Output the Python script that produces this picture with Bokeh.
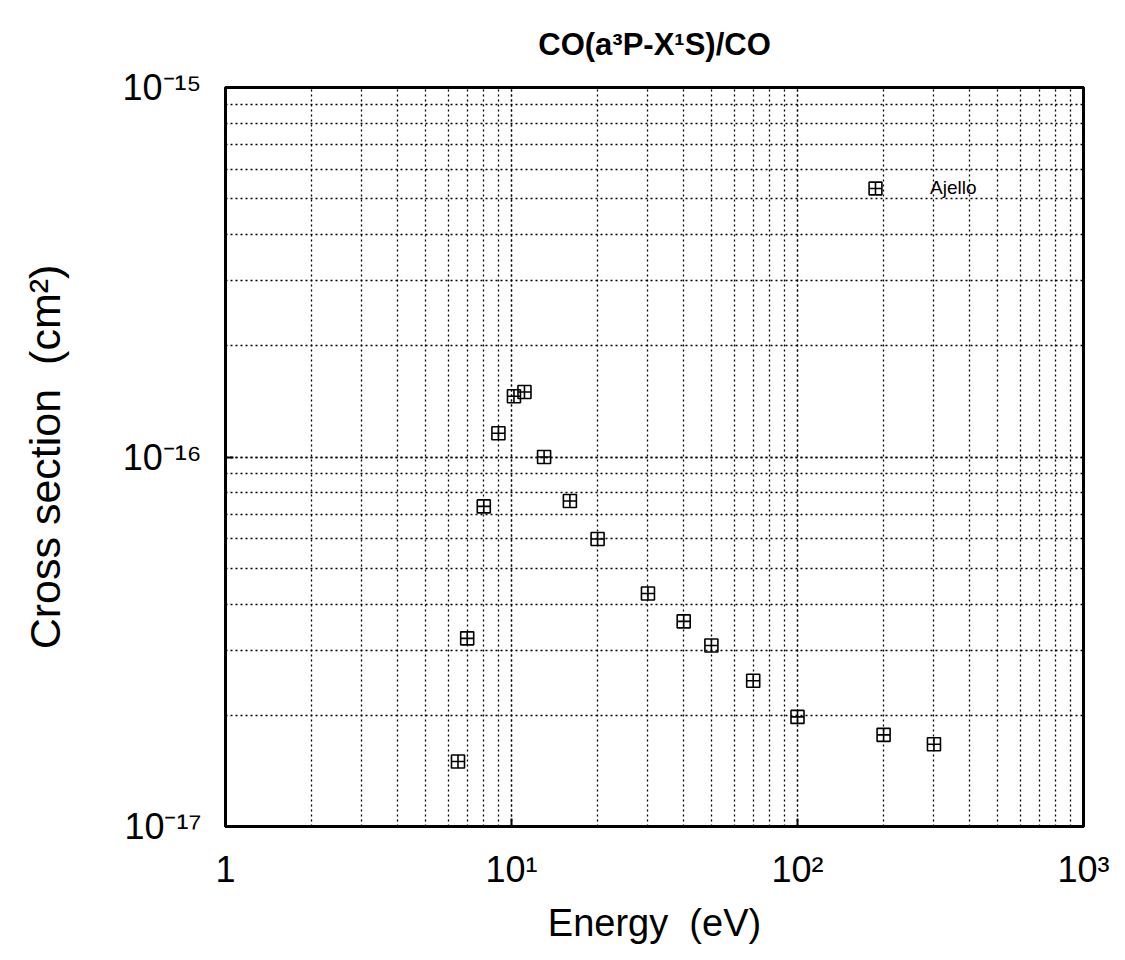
from bokeh.plotting import figure
from bokeh.models import (ColumnDataSource, CustomJSTickFormatter, LogTicker, Legend,
                          LegendItem)
from bokeh.embed import file_html
from bokeh.resources import INLINE

# Data: Ajello, CO(a3P - X1S) excitation cross section
energy = [6.5, 7.0, 8.0, 9.0, 10.2, 11.1, 13.0, 16.0, 20.0, 30.0, 40.0, 50.0, 70.0, 100.0, 200.0, 300.0]
cross_section = [1.50e-17, 3.23e-17, 7.35e-17, 1.16e-16, 1.46e-16, 1.50e-16, 1.00e-16, 7.6e-17,
                 6.0e-17, 4.27e-17, 3.59e-17, 3.09e-17, 2.48e-17, 1.98e-17, 1.77e-17, 1.67e-17]
series_name = "Ajello"
x_range = (1, 1000)
y_range = (1e-17, 1e-15)
title_text = "CO(a\u00b3P-X\u00b9S)/CO"
x_label = "Energy\u00a0\u00a0(eV)"
y_label = "Cross section\u00a0\u00a0(cm\u00b2)"

FONT = "Liberation Sans"

p = figure(width=1125, height=960, x_axis_type="log", y_axis_type="log",
           x_range=x_range, y_range=y_range, output_backend="svg",
           toolbar_location=None, min_border_left=225, min_border_right=42,
           min_border_top=87, min_border_bottom=134)

p.title.text = title_text
p.title.text_font = FONT
p.title.text_font_size = "31px"
p.title.text_font_style = "bold"
p.title.text_color = "black"
p.title.align = "center"
p.title.vertical_align = "top"
p.title.offset = 0
p.title.standoff = 48

src = ColumnDataSource(dict(x=energy, y=cross_section))
r = p.scatter("x", "y", source=src, marker="square_cross", size=13,
              line_color="black", line_width=1.6, fill_color=None)

sup_js = """
const sup = {'-':'\u207b','0':'\u2070','1':'\u00b9','2':'\u00b2','3':'\u00b3','4':'\u2074',
             '5':'\u2075','6':'\u2076','7':'\u2077','8':'\u2078','9':'\u2079'};
const e = Math.round(Math.log10(tick));
if (e == 0) return '1';
return '10' + String(e).split('').map(c => sup[c]).join('');
"""
for ax in (p.xaxis[0], p.yaxis[0]):
    ax.formatter = CustomJSTickFormatter(code=sup_js)
    ax.major_label_text_font = FONT
    ax.major_label_text_font_size = "36px"
    ax.major_label_text_color = "black"
    ax.axis_label_text_font = FONT
    ax.axis_label_text_font_style = "normal"
    ax.axis_label_text_color = "black"
    ax.axis_line_color = "black"
    ax.axis_line_width = 3
    ax.major_tick_in = 8
    ax.major_tick_out = 0
    ax.minor_tick_in = 0
    ax.minor_tick_out = 0
    ax.major_tick_line_color = "black"
    ax.major_tick_line_width = 2

p.xaxis.axis_label_text_font_size = "38px"
p.yaxis.axis_label_text_font_size = "43px"
p.xaxis.ticker = LogTicker(desired_num_ticks=4, num_minor_ticks=10)
p.yaxis.ticker = LogTicker(desired_num_ticks=3, num_minor_ticks=10)
p.xaxis.axis_label = x_label
p.yaxis.axis_label = y_label
p.xaxis.major_label_standoff = 22
p.yaxis.major_label_standoff = 24
p.xaxis.axis_label_standoff = 9
p.yaxis.axis_label_standoff = 51

for g in (p.xgrid[0], p.ygrid[0]):
    g.grid_line_color = "black"
    g.grid_line_dash = "2 3"
    g.grid_line_width = 1.3
    g.minor_grid_line_color = "black"
    g.minor_grid_line_dash = "2 3"
    g.minor_grid_line_width = 1.3

p.outline_line_color = "black"
p.outline_line_width = 3
p.background_fill_color = "white"
p.border_fill_color = "white"

legend = Legend(items=[LegendItem(label=series_name, renderers=[r])],
                location=(634, 622), padding=0, margin=0, spacing=0,
                glyph_width=32, glyph_height=32, label_standoff=39,
                label_text_font=FONT, label_text_font_size="19px",
                label_text_color="black", label_height=32,
                border_line_color=None, background_fill_alpha=0)
p.add_layout(legend)

open("out.html", "w").write(file_html(p, INLINE))
